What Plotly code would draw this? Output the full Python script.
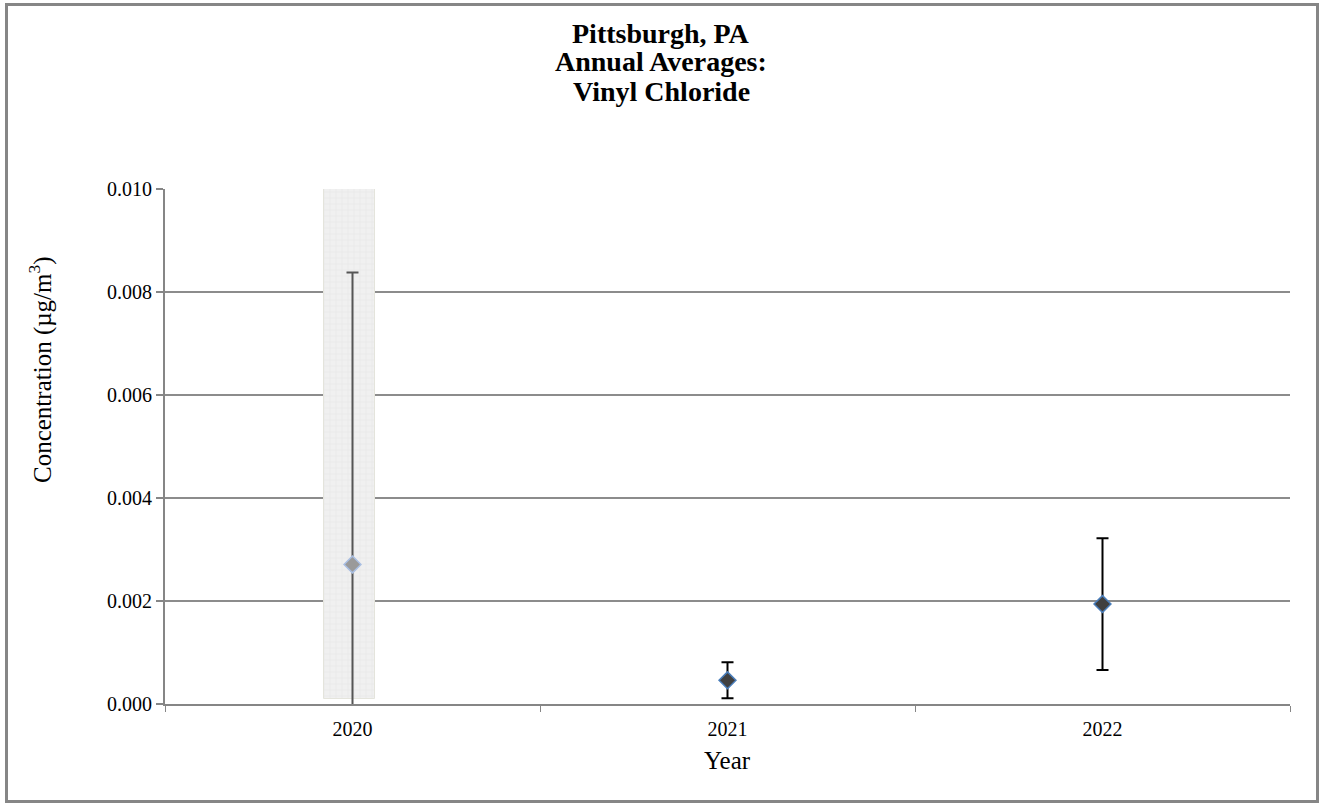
import plotly.graph_objects as go

# Annual average vinyl chloride concentrations (µg/m³) with 95% confidence bounds
years = ["2020", "2021", "2022"]
annual_mean = [0.00271, 0.00046, 0.00194]
upper_bound = [0.00838, 0.00081, 0.00322]
lower_bound = [-0.00296, 0.00011, 0.00066]
# 2020 has incomplete data and is shaded
flagged_year = "2020"
flagged_top = 0.0100

y_ticks = [0.000, 0.002, 0.004, 0.006, 0.008, 0.010]
title_lines = ["Pittsburgh, PA", "Annual Averages:", "Vinyl Chloride"]
x_title = "Year"
y_title = "Concentration (µg/m<sup>3</sup>)"

FONT = "Liberation Serif, Times New Roman, serif"
xpos = list(range(len(years)))
fi = years.index(flagged_year)

fig = go.Figure()

# Shaded band behind the flagged year
fig.add_trace(go.Bar(
    x=[xpos[fi] - 0.007], y=[flagged_top - 0.0001], base=[0.0001], width=0.136,
    marker=dict(color="#efefef", line=dict(color="#e4e4dc", width=1),
                pattern=dict(shape="+", fgcolor="#d6d6d6", bgcolor="#f0f0f0",
                             size=6, solidity=0.18)),
    hoverinfo="skip", showlegend=False,
))

# Regular years
reg = [i for i in xpos if i != fi]
fig.add_trace(go.Scatter(
    x=[xpos[i] for i in reg], y=[annual_mean[i] for i in reg], mode="markers",
    marker=dict(symbol="diamond", size=13, color="#404040",
                line=dict(color="#4a7ebb", width=1.5)),
    error_y=dict(type="data", symmetric=False,
                 array=[upper_bound[i] - annual_mean[i] for i in reg],
                 arrayminus=[annual_mean[i] - lower_bound[i] for i in reg],
                 color="black", thickness=2, width=6),
    showlegend=False,
))

# Flagged year drawn faded
fig.add_trace(go.Scatter(
    x=[xpos[fi]], y=[annual_mean[fi]], mode="markers",
    marker=dict(symbol="diamond", size=13, color="#9a9a9a",
                line=dict(color="#a9bfe3", width=1.5)),
    error_y=dict(type="data", symmetric=False,
                 array=[upper_bound[fi] - annual_mean[fi]],
                 arrayminus=[annual_mean[fi] - lower_bound[fi]],
                 color="#555555", thickness=2, width=6),
    showlegend=False,
))

# Outer frame around the whole chart (paper coords relative to plot area)
L, R, T, B = 165, 1290, 189, 704
W, H = 1322, 808
def px_x(p): return (p - L) / (R - L)
def px_y(p): return (B - p) / (B - T)

fig.add_shape(type="rect", xref="paper", yref="paper",
              x0=px_x(6.5), x1=px_x(1317.5), y0=px_y(801.5), y1=px_y(4.5),
              line=dict(color="#868686", width=3), fillcolor="rgba(0,0,0,0)",
              layer="below")

# Three-line chart title, centred on the full figure
for k, line in enumerate(title_lines):
    fig.add_annotation(
        text=f"<b>{line}</b>", showarrow=False,
        xref="paper", yref="paper", x=px_x(W / 2), y=px_y(33 + 29 * k),
        xanchor="center", yanchor="middle",
        font=dict(family=FONT, size=28, color="black"),
    )

# Axis titles
fig.add_annotation(
    text=y_title, showarrow=False, textangle=-90,
    xref="paper", yref="paper", x=px_x(40), y=px_y(370),
    xanchor="center", yanchor="middle",
    font=dict(family=FONT, size=25, color="black"),
)
fig.add_annotation(
    text=x_title, showarrow=False,
    xref="paper", yref="paper", x=px_x(727), y=px_y(760),
    xanchor="center", yanchor="middle",
    font=dict(family=FONT, size=25, color="black"),
)

fig.update_layout(
    width=W, height=H,
    margin=dict(l=L, r=W - R, t=T, b=H - B),
    paper_bgcolor="white", plot_bgcolor="white",
    font=dict(family=FONT, color="black"),
    bargap=0,
    xaxis=dict(
        range=[-0.5, 2.5], tickvals=xpos, ticktext=years,
        ticks="", showgrid=False, zeroline=False,
        showline=True, linecolor="#868686", linewidth=2,
        tickfont=dict(size=20), ticklabelstandoff=6,
        minor=dict(tick0=-0.5, dtick=1, ticks="outside", ticklen=6,
                   tickcolor="#868686", tickwidth=1, showgrid=False),
    ),
    yaxis=dict(
        range=[0, 0.010], tickvals=y_ticks,
        ticktext=[f"{v:.3f}" for v in y_ticks],
        showgrid=True, gridcolor="#8c8c8c", gridwidth=1.5,
        zeroline=False, showline=True, linecolor="#868686", linewidth=2,
        ticks="outside", ticklen=7, tickcolor="#868686", tickwidth=1.5,
        tickfont=dict(size=20),
    ),
)

fig.write_html("out.html")
